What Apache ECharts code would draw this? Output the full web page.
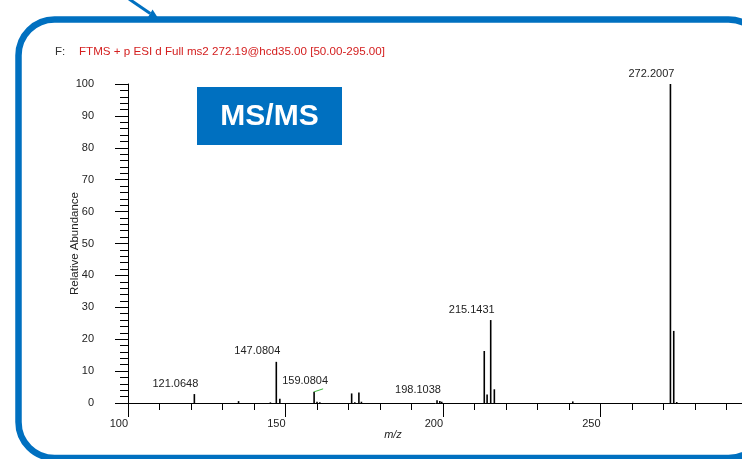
<!DOCTYPE html>
<html>
<head>
<meta charset="utf-8">
<style>
  html, body { margin: 0; padding: 0; background: #ffffff; }
  #chart { width: 742px; height: 459px; }
</style>
<script src="https://cdn.jsdelivr.net/npm/echarts@6/dist/echarts.min.js"></script>
</head>
<body>
<div id="chart"></div>
<script>
// Centroided MS/MS peaks: m/z and relative abundance (%)
const peakMz = [121.0648, 135.1, 145.2, 147.0804, 148.2, 159.0804, 160.0, 160.9,
                171.0, 172.0, 173.3, 174.1, 198.1038, 199.0, 199.6,
                213.1, 214.0, 215.1431, 216.3, 241.2, 272.2007, 273.25, 274.2];
const peakAbundance = [2.8, 0.6, 0.2, 12.9, 1.3, 3.5, 0.4, 0.2,
                       3.0, 0.2, 3.3, 0.4, 0.9, 0.6, 0.4,
                       16.3, 2.7, 26.0, 4.3, 0.5, 100, 22.6, 0.3];

// Annotated peaks
const labelMz = [121.0648, 147.0804, 159.0804, 198.1038, 215.1431, 272.2007];
const labelAbundance = [2.8, 12.9, 3.5, 0.9, 26.0, 100];
const leaderLabels = [159.0804];

// Axis ranges / ticks
const mzMin = 100, mzMax = 300, mzStep = 50;
const abMin = 0, abMax = 100, abStep = 10;

const scanHeader = 'FTMS + p ESI d Full ms2 272.19@hcd35.00 [50.00-295.00]';

const BLUE = '#0070c0';
const FONT = '"Liberation Sans", Arial, sans-serif';

const chart = echarts.init(document.getElementById('chart'), null, { renderer: 'canvas' });

const arrowDir = [0.86, 0.51];
const tip = [158, 18];
const base = [tip[0] - 9 * arrowDir[0], tip[1] - 9 * arrowDir[1]];
const perp = [-arrowDir[1] * 4.5, arrowDir[0] * 4.5];

chart.setOption({
  animation: false,
  backgroundColor: '#ffffff',
  // plot area runs past the right edge of the canvas (m/z 295 sits at the edge)
  grid: {
    left: 128, top: 84, width: 630, height: 319,
    containLabel: false, outerBoundsMode: 'none'
  },
  xAxis: {
    type: 'value',
    min: mzMin, max: mzMax, interval: mzStep,
    axisLine: { show: true, onZero: false, lineStyle: { color: '#000', width: 1 } },
    axisTick: { show: true, length: 14, lineStyle: { color: '#000', width: 1 } },
    minorTick: { show: true, splitNumber: 5, length: 7, lineStyle: { color: '#000', width: 1 } },
    splitLine: { show: false },
    axisLabel: {
      align: 'right', margin: 15, color: '#222', fontSize: 11, fontFamily: FONT,
      showMaxLabel: false
    }
  },
  yAxis: {
    type: 'value',
    min: abMin, max: abMax, interval: abStep,
    name: 'Relative Abundance',
    nameLocation: 'middle', nameGap: 47, nameMoveOverlap: false,
    nameTextStyle: { color: '#222', fontSize: 11.5, fontFamily: FONT },
    axisLine: { show: true, lineStyle: { color: '#000', width: 1 } },
    axisTick: { show: true, length: 13, lineStyle: { color: '#000', width: 1 } },
    minorTick: { show: true, splitNumber: 5, length: 8, lineStyle: { color: '#000', width: 1 } },
    splitLine: { show: false },
    axisLabel: { margin: 34, color: '#222', fontSize: 11, fontFamily: FONT }
  },
  series: [
    {
      type: 'custom',
      name: 'peaks',
      data: peakMz.map((m, i) => [m, peakAbundance[i]]),
      renderItem: function (params, api) {
        const p0 = api.coord([api.value(0), 0]);
        const p1 = api.coord([api.value(0), api.value(1)]);
        return {
          type: 'line',
          shape: { x1: p0[0], y1: p0[1], x2: p1[0], y2: p1[1] },
          style: { stroke: '#000', lineWidth: 1.6 }
        };
      },
      z: 3
    },
    {
      type: 'custom',
      name: 'annotations',
      data: labelMz.map((m, i) => [m, labelAbundance[i]]),
      renderItem: function (params, api) {
        const mz = api.value(0);
        const top = api.coord([mz, api.value(1)]);
        const hasLeader = leaderLabels.indexOf(mz) >= 0;
        const children = [{
          type: 'text',
          x: top[0] + (hasLeader ? -9 : -19),
          y: top[1] - 5,
          style: {
            text: mz.toFixed(4),
            fill: '#222',
            font: '11px ' + FONT,
            align: 'center',
            verticalAlign: 'bottom'
          }
        }];
        if (hasLeader) {
          children.push({
            type: 'line',
            shape: { x1: top[0], y1: top[1], x2: top[0] + 9, y2: top[1] - 3 },
            style: { stroke: '#3cb43c', lineWidth: 1 }
          });
        }
        return { type: 'group', children: children };
      },
      z: 4
    }
  ],
  graphic: [
    {
      type: 'rect',
      shape: { x: 18.5, y: 19.5, width: 746, height: 438.5, r: 36 },
      style: { fill: null, stroke: BLUE, lineWidth: 6.5 },
      z: 0
    },
    {
      type: 'line',
      shape: { x1: 129, y1: -1, x2: base[0], y2: base[1] },
      style: { stroke: BLUE, lineWidth: 3 },
      z: 1
    },
    {
      type: 'polygon',
      shape: { points: [tip, [base[0] + perp[0], base[1] + perp[1]], [base[0] - perp[0], base[1] - perp[1]]] },
      style: { fill: BLUE },
      z: 1
    },
    {
      type: 'text', x: 55, y: 52,
      style: { text: 'F:', fill: '#333', font: '11.5px ' + FONT, verticalAlign: 'middle' }
    },
    {
      type: 'text', x: 79, y: 52,
      style: { text: scanHeader, fill: '#d42020', font: '11.6px ' + FONT, verticalAlign: 'middle' }
    },
    {
      type: 'rect',
      shape: { x: 197, y: 87, width: 145, height: 58 },
      style: { fill: BLUE },
      z: 5
    },
    {
      type: 'text', x: 269.5, y: 116.5,
      style: {
        text: 'MS/MS', fill: '#ffffff', font: 'bold 30px ' + FONT,
        align: 'center', verticalAlign: 'middle'
      },
      z: 6
    },
    {
      type: 'text', x: 393, y: 435,
      style: {
        text: 'm/z', fill: '#222', font: 'italic 11px ' + FONT,
        align: 'center', verticalAlign: 'middle'
      }
    }
  ]
});
</script>
</body>
</html>
